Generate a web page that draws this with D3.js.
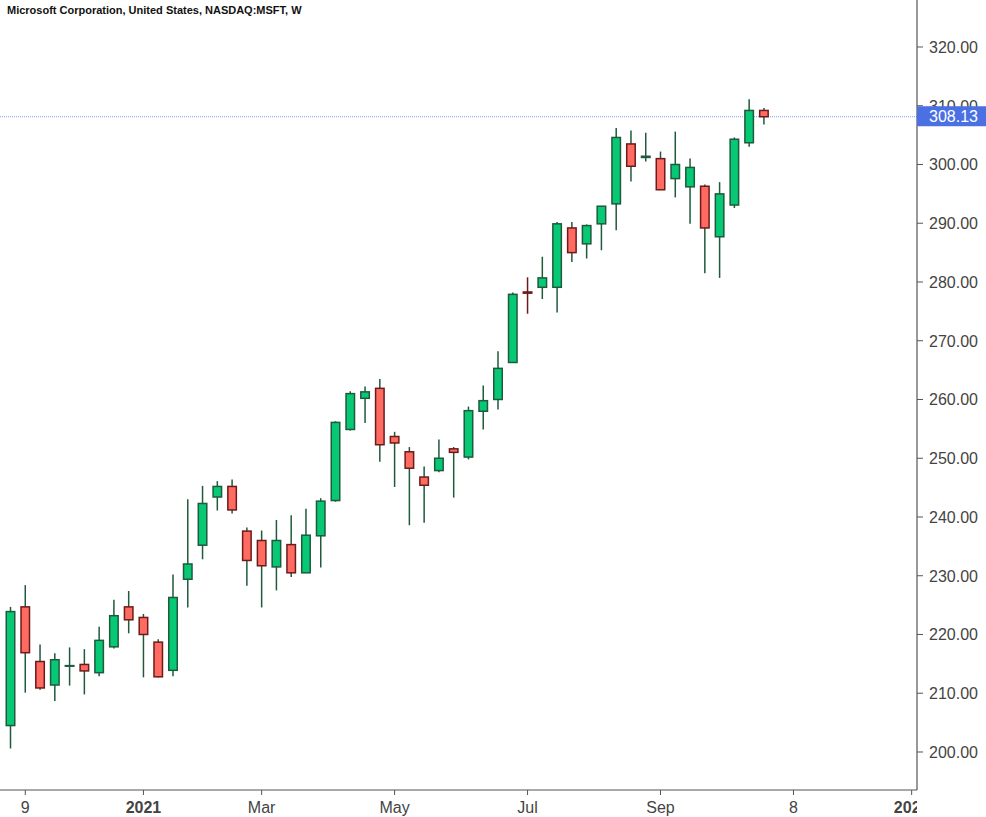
<!DOCTYPE html>
<html lang="en">
<head>
<meta charset="UTF-8">
<title>MSFT weekly</title>
<script src="https://d3js.org/d3.v7.min.js"></script>
<style>
  body { margin: 0; background: #fff; font-family: "Liberation Sans", Arial, sans-serif; }
  svg { display: block; }
</style>
</head>
<body>
<svg id="chart"></svg>
<script>
const width = 986, height = 817;

// weekly candles, first week 2020-11-02
const startWeek = "2020-11-02";
const opens  = [204.5,224.7,215.4,211.4,214.6,214.9,213.5,217.9,224.7,222.9,218.7,213.9,229.4,235.2,243.4,245.2,237.6,236.0,231.5,235.3,230.5,236.8,242.8,254.9,260.2,261.9,253.7,251.1,246.8,247.9,251.6,250.2,258.0,260.0,266.3,278.3,279.1,279.1,289.2,286.5,289.9,293.3,303.5,301.2,301.0,297.6,296.2,296.3,287.7,293.1,303.7,309.2];
const highs  = [224.7,228.4,218.3,216.8,217.8,217.5,221.3,225.9,227.4,223.5,219.2,230.2,243.0,245.3,246.1,246.4,238.2,237.7,239.5,240.3,241.4,243.2,256.3,261.4,262.2,263.5,254.5,251.9,248.6,253.2,251.9,258.8,262.4,268.2,278.2,280.8,284.3,290.2,290.2,289.8,292.9,306.2,305.8,305.4,302.2,305.6,301.0,296.6,297.0,304.6,311.1,309.6];
const lows   = [200.6,210.1,210.6,208.7,211.3,209.8,212.9,217.6,220.2,212.7,212.7,212.9,224.6,232.8,241.1,240.6,228.3,224.6,227.5,229.8,230.5,231.4,242.6,254.7,256.0,249.4,245.1,238.6,239.0,247.6,243.3,249.8,254.9,258.3,266.2,274.6,277.1,274.8,283.4,284.0,285.4,288.8,297.1,300.5,295.7,294.4,289.9,281.5,280.7,292.6,303.0,306.8];
const closes = [223.9,216.9,210.9,215.7,214.7,213.8,219.0,223.2,222.5,220.0,212.8,226.3,232.0,242.3,245.2,241.2,232.6,231.7,236.0,230.5,236.9,242.7,256.1,261.0,261.3,252.3,252.6,248.3,245.4,250.0,251.0,258.1,259.8,265.3,277.9,278.1,280.7,289.9,285.0,289.6,292.9,304.6,299.7,301.4,295.7,300.0,299.5,289.2,295.0,304.3,309.2,308.13];

const xTickDates  = ["2020-11-09","2021-01-04","2021-03-01","2021-05-03","2021-07-05","2021-09-06","2021-11-08","2022-01-03"];
const xTickLabels = ["9","2021","Mar","May","Jul","Sep","8","2022"];
const xTickBold   = [false,true,false,false,false,false,false,true];
const yTicks = [200,210,220,230,240,250,260,270,280,290,300,310,320];
const lastPrice = 308.13;
const title = "Microsoft Corporation, United States, NASDAQ:MSFT, W";

const parse = d3.utcParse("%Y-%m-%d");
const t0 = parse(startWeek);
const candles = opens.map((o, i) => ({
  date: d3.utcDay.offset(t0, 7 * i),
  o, h: highs[i], l: lows[i], c: closes[i]
}));

const plotRight = 917, plotBottom = 790;
const step = 14.773;

const x = d3.scaleUtc()
  .domain([candles[0].date, candles[candles.length - 1].date])
  .range([10.5, 10.5 + step * (candles.length - 1)]);
const y = d3.scaleLinear().domain([193.53, 328]).range([plotBottom, 0]);

const svg = d3.select("#chart").attr("width", width).attr("height", height);

// last price line
svg.append("line")
  .attr("x1", 0).attr("x2", plotRight)
  .attr("y1", y(lastPrice)).attr("y2", y(lastPrice))
  .attr("stroke", "#7d9cf0").attr("stroke-width", 1)
  .attr("stroke-dasharray", "1,1");

// candles
const bodyW = 8.5;
const g = svg.append("g");
const cg = g.selectAll("g.candle").data(candles).enter().append("g");
cg.append("line")
  .attr("x1", d => x(d.date)).attr("x2", d => x(d.date))
  .attr("y1", d => y(d.h)).attr("y2", d => y(d.l))
  .attr("stroke", d => (d.c < d.o && Math.abs(d.c - d.o) < 0.3) ? "#6b1b1b" : "#1f5a3c")
  .attr("stroke-width", 1.5);
cg.append("rect")
  .attr("x", d => x(d.date) - bodyW / 2)
  .attr("width", bodyW)
  .attr("y", d => y(Math.max(d.o, d.c)))
  .attr("height", d => Math.max(0.5, Math.abs(y(d.o) - y(d.c))))
  .attr("fill", d => d.c >= d.o ? "#07c874" : "#ff6a61")
  .attr("stroke", d => d.c >= d.o ? "#1f5a3c" : "#6b1b1b")
  .attr("stroke-width", 1.5);

// right axis
const yAxis = svg.append("g");
yAxis.append("line")
  .attr("x1", plotRight).attr("x2", plotRight)
  .attr("y1", 0).attr("y2", plotBottom)
  .attr("stroke", "#555").attr("stroke-width", 1.2);
yAxis.selectAll("line.tick").data(yTicks).enter().append("line")
  .attr("x1", plotRight).attr("x2", plotRight + 6)
  .attr("y1", d => y(d)).attr("y2", d => y(d))
  .attr("stroke", "#555");
yAxis.selectAll("text").data(yTicks).enter().append("text")
  .attr("x", 929).attr("y", d => y(d)).attr("dy", "0.36em")
  .attr("font-size", 16).attr("fill", "#444")
  .text(d => d3.format(".2f")(d));

// bottom axis
const xAxis = svg.append("g");
xAxis.append("line")
  .attr("x1", 0).attr("x2", plotRight)
  .attr("y1", plotBottom).attr("y2", plotBottom)
  .attr("stroke", "#555").attr("stroke-width", 1.2);
const xt = xTickDates.map((d, i) => ({ date: parse(d), label: xTickLabels[i], bold: xTickBold[i] }));
xAxis.selectAll("line.tick").data(xt).enter().append("line")
  .attr("x1", d => x(d.date)).attr("x2", d => x(d.date))
  .attr("y1", plotBottom).attr("y2", plotBottom + 5)
  .attr("stroke", "#555");
svg.append("clipPath").attr("id", "xclip").append("rect")
  .attr("x", 0).attr("y", plotBottom).attr("width", plotRight).attr("height", 30);
xAxis.append("g").attr("clip-path", "url(#xclip)")
  .selectAll("text").data(xt).enter().append("text")
  .attr("x", d => x(d.date)).attr("y", 812.5)
  .attr("text-anchor", "middle")
  .attr("font-size", 16).attr("fill", "#444")
  .attr("font-weight", d => d.bold ? "bold" : "normal")
  .text(d => d.label);

// last price label
svg.append("rect")
  .attr("x", plotRight).attr("y", y(lastPrice) - 10.5)
  .attr("width", width - plotRight).attr("height", 20)
  .attr("fill", "#4a70e3");
svg.append("text")
  .attr("x", 929).attr("y", y(lastPrice)).attr("dy", "0.36em")
  .attr("font-size", 16).attr("fill", "#fff")
  .text(d3.format(".2f")(lastPrice));

// title
svg.append("text")
  .attr("x", 7).attr("y", 13.5)
  .attr("font-size", 11).attr("font-weight", "bold").attr("fill", "#111")
  .text(title);
</script>
</body>
</html>
